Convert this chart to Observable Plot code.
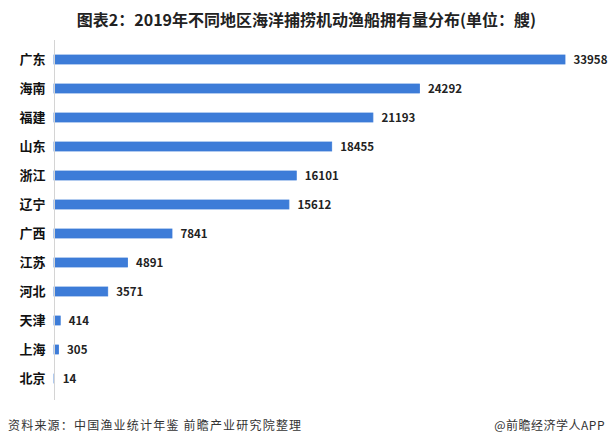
<!DOCTYPE html>
<html>
<head>
<meta charset="utf-8">
<script src="https://cdn.jsdelivr.net/npm/d3@7"></script>
<script src="https://cdn.jsdelivr.net/npm/@observablehq/plot@0.6"></script>
<style>
  html, body { margin: 0; padding: 0; background: #fff; }
  body { width: 613px; height: 446px; overflow: hidden; font-family: "Noto Sans CJK SC", "Noto Sans", sans-serif; }
  #title { height: 30px; box-sizing: border-box; padding-top: 9px; line-height: 21px; font-size: 16px; font-weight: bold; color: #222; text-align: center; white-space: nowrap; }
  #footer { position: relative; height: 36px; font-size: 12px; color: #333; }
  #footer .l { position: absolute; left: 8px; top: 5px; line-height: 20px; letter-spacing: 1.2px; }
  #footer .r { position: absolute; right: 8px; top: 5px; line-height: 20px; letter-spacing: 0.5px; }
</style>
</head>
<body>
<div id="title">图表2：2019年不同地区海洋捕捞机动渔船拥有量分布(单位：艘)</div>
<div id="chart"></div>
<div id="footer"><span class="l">资料来源：中国渔业统计年鉴 前瞻产业研究院整理</span><span class="r">@前瞻经济学人APP</span></div>
<script>
const regions = ["广东", "海南", "福建", "山东", "浙江", "辽宁", "广西", "江苏", "河北", "天津", "上海", "北京"];
const counts = [33958, 24292, 21193, 18455, 16101, 15612, 7841, 4891, 3571, 414, 305, 14];

const data = regions.map((r, i) => ({region: r, count: counts[i]}));

const chart = Plot.plot({
  width: 613,
  height: 380,
  marginTop: 4,
  marginBottom: 7,
  marginLeft: 54,
  marginRight: 48,
  style: {fontFamily: "'Noto Sans CJK SC', sans-serif", background: "#fff"},
  x: {domain: [0, 33958], axis: null},
  y: {domain: regions, padding: 0.7, label: null},
  marks: [
    Plot.barX(data, {x: "count", y: "region", fill: "#3d7cd8", stroke: "#3d7cd8", strokeWidth: 0.8}),
    Plot.ruleX([0], {stroke: "#d4d4d4", strokeWidth: 1, insetTop: 6, insetBottom: 3}),
    Plot.text(data, {x: "count", y: "region", text: d => String(d.count), textAnchor: "start", dx: 8, fontSize: 11.5, fontWeight: "bold", fill: "#222"}),
    Plot.axisY({tickSize: 0, tickPadding: 9, fontSize: 13, fontWeight: "bold", color: "#111", label: null})
  ]
});
document.getElementById("chart").appendChild(chart);
</script>
</body>
</html>
